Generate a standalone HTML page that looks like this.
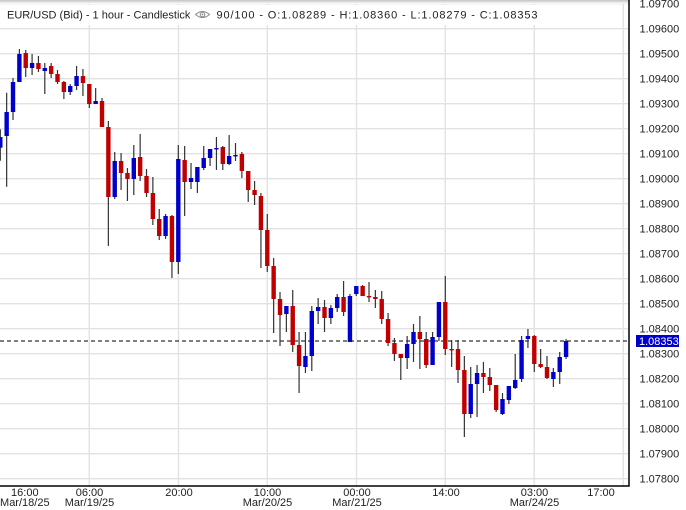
<!DOCTYPE html>
<html><head><meta charset="utf-8"><style>
html,body{margin:0;padding:0;background:#fff;}
svg{display:block;font-family:"Liberation Sans",Arial,sans-serif;}
.b{fill:#0000cc}.r{fill:#c00000}
</style></head><body>
<svg width="686" height="510" viewBox="0 0 686 510" xmlns="http://www.w3.org/2000/svg">
<defs>
<linearGradient id="tg" x1="0" y1="0" x2="0" y2="1"><stop offset="0" stop-color="#c4c4c4"/><stop offset="1" stop-color="#ffffff"/></linearGradient>
<clipPath id="pc"><rect x="0" y="0" width="629" height="486"/></clipPath>
</defs>
<rect width="686" height="510" fill="#fff"/>
<g clip-path="url(#pc)">
<g stroke="#e2e2e2" stroke-width="1.4" fill="none">
<path d="M0 3.7H629M0 28.7H629M0 53.7H629M0 78.7H629M0 103.7H629M0 128.7H629M0 153.7H629M0 178.7H629M0 203.7H629M0 228.7H629M0 253.7H629M0 278.7H629M0 303.7H629M0 328.7H629M0 353.7H629M0 378.7H629M0 403.7H629M0 428.7H629M0 453.7H629M0 478.7H629"/>
<path d="M89.3 0V486M178.5 0V486M267.3 0V486M356.5 0V486M445.3 0V486M534.2 0V486M623.3 0V486"/>
</g>
<rect x="0" y="0" width="629" height="4" fill="url(#tg)"/>
<rect x="2" y="5" width="543" height="20" fill="#fff"/>
<line x1="0" y1="341" x2="629" y2="341" stroke="#000" stroke-width="1" stroke-dasharray="4,3"/>
<path stroke="#333" stroke-width="1.2" fill="none" d="M0.3 129.3V160.7M6.66 92.7V186.7M13.01 78V120M19.37 49V82M25.73 50V77M32.09 54V75M38.44 56V72M44.8 63V94M51.16 63V78M57.51 70V84M63.87 81V99M70.23 84V95M76.58 66V90M82.94 69V96M89.3 84V108M95.66 88V104M102.01 98V127M108.37 121V246M114.73 152V199M121.08 153V190M127.44 168V201M133.8 145V195M140.15 134V181M146.51 169V197M152.87 177V225M159.23 209V240M165.58 214V239M171.94 215V278M178.3 145V274M184.65 146V216M191.01 163V189M197.37 167V193M203.72 146V170M210.08 149V166M216.44 137V170M222.8 146V170M229.15 135V165M235.51 143V161M241.87 152V178M248.22 171V202M254.58 181V205M260.94 193V268M267.29 214V272M273.65 258V333M280.01 292V346M286.37 306V332M292.72 290V352M299.08 332V393M305.44 332V373M311.79 306V371M318.15 298V324M324.51 300V332M330.86 305V324M337.22 294V312M343.58 281V316M349.94 294V342M356.29 286V296M362.65 285V296M369.01 282V302M375.36 290V308M381.72 291V324M388.08 313V346M394.43 338V361M400.79 354V380M407.15 336V369M413.51 324V362M419.86 316V369M426.22 332V368M432.58 332V365M438.93 302V341M445.29 276V355M451.65 340V367M458 340V383M464.36 356V437M470.72 367V418M477.08 365V417M483.43 362V393M489.79 368V391M496.15 385V412M502.5 393V415M508.86 386V404M515.22 354V389M521.57 336V382M527.93 329V348M534.29 335V372M540.65 349V368M547 356V379M553.36 368V387M559.72 352V384M566.07 339V359"/>
<g>
<rect class="b" x="-1.9" y="137" width="4.4" height="10.7"/>
<rect class="b" x="4.46" y="112" width="4.4" height="24"/>
<rect class="b" x="10.81" y="82" width="4.4" height="30"/>
<rect class="b" x="17.17" y="54" width="4.4" height="28"/>
<rect class="r" x="23.53" y="53" width="4.4" height="15"/>
<rect class="b" x="29.89" y="63" width="4.4" height="5"/>
<rect class="r" x="36.24" y="63" width="4.4" height="6"/>
<rect class="b" x="42.6" y="68" width="4.4" height="3"/>
<rect class="r" x="48.96" y="66" width="4.4" height="8"/>
<rect class="r" x="55.31" y="74" width="4.4" height="8"/>
<rect class="r" x="61.67" y="82" width="4.4" height="10"/>
<rect class="b" x="68.03" y="86" width="4.4" height="6"/>
<rect class="b" x="74.38" y="76" width="4.4" height="10"/>
<rect class="r" x="80.74" y="76" width="4.4" height="7"/>
<rect class="r" x="87.1" y="84" width="4.4" height="20"/>
<rect class="b" x="93.46" y="101" width="4.4" height="3"/>
<rect class="r" x="99.81" y="101" width="4.4" height="26"/>
<rect class="r" x="106.17" y="127" width="4.4" height="70"/>
<rect class="b" x="112.53" y="161" width="4.4" height="36"/>
<rect class="r" x="118.88" y="161" width="4.4" height="12"/>
<rect class="r" x="125.24" y="173" width="4.4" height="6"/>
<rect class="b" x="131.6" y="158" width="4.4" height="21"/>
<rect class="r" x="137.95" y="157" width="4.4" height="19"/>
<rect class="r" x="144.31" y="176" width="4.4" height="17"/>
<rect class="r" x="150.67" y="193" width="4.4" height="26"/>
<rect class="r" x="157.03" y="219" width="4.4" height="17"/>
<rect class="b" x="163.38" y="216" width="4.4" height="20"/>
<rect class="r" x="169.74" y="216" width="4.4" height="46"/>
<rect class="b" x="176.1" y="159" width="4.4" height="103"/>
<rect class="r" x="182.45" y="160" width="4.4" height="22"/>
<rect class="b" x="188.81" y="178" width="4.4" height="4"/>
<rect class="b" x="195.17" y="167" width="4.4" height="15"/>
<rect class="b" x="201.52" y="158" width="4.4" height="10"/>
<rect class="b" x="207.88" y="149" width="4.4" height="9"/>
<rect class="b" x="214.24" y="148" width="4.4" height="1.4"/>
<rect class="r" x="220.6" y="147" width="4.4" height="17"/>
<rect class="b" x="226.95" y="156" width="4.4" height="8"/>
<rect class="b" x="233.31" y="155" width="4.4" height="1.4"/>
<rect class="r" x="239.67" y="154" width="4.4" height="17"/>
<rect class="r" x="246.02" y="171" width="4.4" height="19"/>
<rect class="r" x="252.38" y="190" width="4.4" height="5"/>
<rect class="r" x="258.74" y="196" width="4.4" height="34"/>
<rect class="r" x="265.09" y="230" width="4.4" height="36"/>
<rect class="r" x="271.45" y="266" width="4.4" height="33"/>
<rect class="r" x="277.81" y="299" width="4.4" height="16"/>
<rect class="b" x="284.17" y="306" width="4.4" height="8"/>
<rect class="r" x="290.52" y="306" width="4.4" height="39"/>
<rect class="r" x="296.88" y="345" width="4.4" height="21"/>
<rect class="b" x="303.24" y="356" width="4.4" height="11"/>
<rect class="b" x="309.59" y="311" width="4.4" height="45"/>
<rect class="b" x="315.95" y="307" width="4.4" height="4"/>
<rect class="r" x="322.31" y="307" width="4.4" height="11"/>
<rect class="b" x="328.66" y="308" width="4.4" height="10"/>
<rect class="b" x="335.02" y="297" width="4.4" height="11"/>
<rect class="r" x="341.38" y="297" width="4.4" height="15"/>
<rect class="b" x="347.74" y="296" width="4.4" height="46"/>
<rect class="b" x="354.09" y="286" width="4.4" height="8"/>
<rect class="r" x="360.45" y="286" width="4.4" height="10"/>
<rect class="r" x="366.81" y="296" width="4.4" height="1.4"/>
<rect class="r" x="373.16" y="297" width="4.4" height="2"/>
<rect class="r" x="379.52" y="299" width="4.4" height="20"/>
<rect class="r" x="385.88" y="319" width="4.4" height="24"/>
<rect class="r" x="392.23" y="343" width="4.4" height="11"/>
<rect class="r" x="398.59" y="354" width="4.4" height="4"/>
<rect class="b" x="404.95" y="344" width="4.4" height="14"/>
<rect class="b" x="411.31" y="332" width="4.4" height="12"/>
<rect class="r" x="417.66" y="332" width="4.4" height="7"/>
<rect class="r" x="424.02" y="339" width="4.4" height="26"/>
<rect class="b" x="430.38" y="337" width="4.4" height="28"/>
<rect class="b" x="436.73" y="302" width="4.4" height="35"/>
<rect class="r" x="443.09" y="302" width="4.4" height="47"/>
<rect class="r" x="449.45" y="349" width="4.4" height="1.4"/>
<rect class="r" x="455.8" y="349" width="4.4" height="21"/>
<rect class="r" x="462.16" y="370" width="4.4" height="44"/>
<rect class="b" x="468.52" y="384" width="4.4" height="30"/>
<rect class="b" x="474.88" y="373" width="4.4" height="11"/>
<rect class="r" x="481.23" y="373" width="4.4" height="4"/>
<rect class="r" x="487.59" y="377" width="4.4" height="8"/>
<rect class="r" x="493.95" y="385" width="4.4" height="25"/>
<rect class="b" x="500.3" y="399" width="4.4" height="15"/>
<rect class="b" x="506.66" y="386" width="4.4" height="14"/>
<rect class="b" x="513.02" y="380" width="4.4" height="8"/>
<rect class="b" x="519.37" y="340" width="4.4" height="39"/>
<rect class="b" x="525.73" y="336" width="4.4" height="3"/>
<rect class="r" x="532.09" y="336" width="4.4" height="28"/>
<rect class="r" x="538.45" y="364" width="4.4" height="3"/>
<rect class="r" x="544.8" y="367" width="4.4" height="11"/>
<rect class="b" x="551.16" y="372" width="4.4" height="7"/>
<rect class="b" x="557.52" y="357" width="4.4" height="15"/>
<rect class="b" x="563.87" y="341" width="4.4" height="16"/>
</g>
</g>
<!-- header -->
<text x="7" y="18.3" font-size="11" fill="#222">EUR/USD (Bid) - 1 hour - Candlestick</text>
<g stroke="#8a8a8a" stroke-width="1" fill="none">
<path d="M195.5 14.5 Q202.5 8.5 209.5 14.5 Q202.5 20.5 195.5 14.5Z"/>
<circle cx="202.5" cy="14.5" r="2.3"/>
</g>
<circle cx="202.5" cy="14.5" r="0.9" fill="#8a8a8a"/>
<text x="216.5" y="18.3" font-size="11" fill="#222" textLength="321" lengthAdjust="spacing">90/100 - O:1.08289 - H:1.08360 - L:1.08279 - C:1.08353</text>
<!-- axes -->
<path d="M629 0V486.7M0 486H629.7" stroke="#000" stroke-width="1.5" fill="none"/>
<g font-size="11" fill="#222">
<text x="639.5" y="7.5">1.09700</text>
<text x="639.5" y="32.5">1.09600</text>
<text x="639.5" y="57.5">1.09500</text>
<text x="639.5" y="82.5">1.09400</text>
<text x="639.5" y="107.5">1.09300</text>
<text x="639.5" y="132.5">1.09200</text>
<text x="639.5" y="157.5">1.09100</text>
<text x="639.5" y="182.5">1.09000</text>
<text x="639.5" y="207.5">1.08900</text>
<text x="639.5" y="232.5">1.08800</text>
<text x="639.5" y="257.5">1.08700</text>
<text x="639.5" y="282.5">1.08600</text>
<text x="639.5" y="307.5">1.08500</text>
<text x="639.5" y="332.5">1.08400</text>
<text x="639.5" y="357.5">1.08300</text>
<text x="639.5" y="382.5">1.08200</text>
<text x="639.5" y="407.5">1.08100</text>
<text x="639.5" y="432.5">1.08000</text>
<text x="639.5" y="457.5">1.07900</text>
<text x="639.5" y="482.5">1.07800</text>
</g>
<rect x="636" y="335" width="43" height="12" fill="#0000cc"/>
<text x="639" y="344.8" font-size="11" fill="#fff">1.08353</text>
<g font-size="11" fill="#222" text-anchor="middle">
<text x="24.8" y="496">16:00</text><text x="24.8" y="506">Mar/18/25</text>
<text x="89.5" y="496">06:00</text><text x="89.5" y="506">Mar/19/25</text>
<text x="179" y="496">20:00</text>
<text x="267.5" y="496">10:00</text><text x="267.5" y="506">Mar/20/25</text>
<text x="357" y="496">00:00</text><text x="357" y="506">Mar/21/25</text>
<text x="446" y="496">14:00</text>
<text x="534.5" y="496">03:00</text><text x="534.5" y="506">Mar/24/25</text>
<text x="601" y="496">17:00</text>
</g>
</svg>
</body></html>
